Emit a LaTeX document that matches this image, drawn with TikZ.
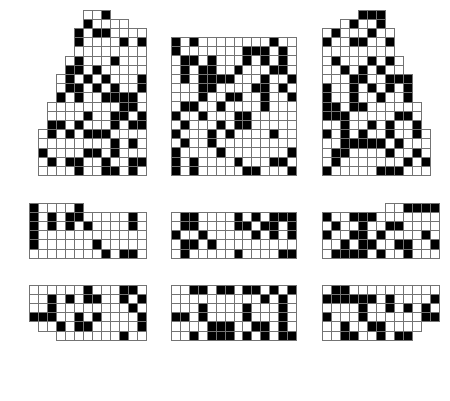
\documentclass[tikz,border=0pt]{standalone}
\begin{document}
\begin{tikzpicture}[x=1pt,y=-1pt,
  seat/.style={draw=black!55,line width=1pt,fill=white},
  taken/.style={draw=black!55,line width=1pt,fill=black}]
\useasboundingbox (0,0) rectangle (450,400);
% top left block
\begin{scope}[shift={(38,10)},x=9.05pt,y=-9.2pt]
  \foreach \r/\a/\b in {1/6/8,2/6/10,3/5/12,4/5/12,5/5/12,6/4/12,7/4/12,8/3/12,9/3/12,
      10/3/12,11/2/12,12/2/12,13/2/12,14/1/12,15/1/12,16/1/12,17/1/12,18/1/12}
    \foreach \c in {\a,...,\b}
      \draw[seat] (\c-1,\r-1) rectangle ++(1,1);
  \foreach \c/\r in {8/1,6/2,5/3,7/3,8/3,5/4,10/4,12/4,5/6,9/6,4/7,5/7,7/7,
      4/8,6/8,8/8,12/8,4/9,5/9,7/9,9/9,12/9,3/10,5/10,8/10,9/10,10/10,11/10,
      10/11,11/11,6/12,9/12,10/12,12/12,2/13,3/13,5/13,9/13,11/13,12/13,
      2/14,4/14,6/14,7/14,8/14,9/15,11/15,1/16,6/16,7/16,9/16,
      2/17,4/17,5/17,8/17,11/17,12/17,5/18,8/18,9/18,11/18}
    \draw[taken] (\c-1,\r-1) rectangle ++(1,1);
\end{scope}
% top middle block
\begin{scope}[shift={(171.5,37.5)},x=8.93pt,y=-9.2pt]
  \foreach \r in {1,...,15}
    \foreach \c in {1,...,14}
      \draw[seat] (\c-1,\r-1) rectangle ++(1,1);
  \foreach \c/\r in {1/1,3/1,12/1,1/2,9/2,10/2,11/2,13/2,2/3,3/3,5/3,9/3,11/3,13/3,
      2/4,4/4,5/4,8/4,12/4,13/4,2/5,4/5,5/5,6/5,7/5,11/5,14/5,4/6,5/6,10/6,11/6,13/6,
      4/7,7/7,8/7,11/7,14/7,2/8,3/8,6/8,11/8,1/9,4/9,8/9,9/9,2/10,6/10,8/10,9/10,
      1/11,5/11,7/11,12/11,2/12,5/12,1/13,6/13,14/13,1/14,3/14,8/14,12/14,13/14,
      1/15,3/15,9/15,10/15,14/15}
    \draw[taken] (\c-1,\r-1) rectangle ++(1,1);
\end{scope}
% top right block
\begin{scope}[shift={(322,10)},x=9.05pt,y=-9.2pt]
  \foreach \r/\a/\b in {1/5/7,2/3/7,3/1/8,4/1/8,5/1/8,6/1/9,7/1/9,8/1/10,9/1/10,
      10/1/10,11/1/11,12/1/11,13/1/11,14/1/12,15/1/12,16/1/12,17/1/12,18/1/12}
    \foreach \c in {\a,...,\b}
      \draw[seat] (\c-1,\r-1) rectangle ++(1,1);
  \foreach \c/\r in {5/1,6/1,7/1,4/2,7/2,2/3,6/3,1/4,4/4,5/4,8/4,2/6,6/6,8/6,
      3/7,5/7,7/7,4/8,5/8,8/8,9/8,10/8,1/9,4/9,6/9,8/9,10/9,1/10,4/10,7/10,10/10,
      1/11,2/11,4/11,5/11,1/12,2/12,3/12,9/12,10/12,3/13,6/13,8/13,11/13,
      1/14,3/14,5/14,8/14,11/14,3/15,4/15,5/15,6/15,7/15,9/15,2/16,3/16,8/16,11/16,
      2/17,10/17,12/17,1/18,7/18,8/18,9/18}
    \draw[taken] (\c-1,\r-1) rectangle ++(1,1);
\end{scope}
% middle left block
\begin{scope}[shift={(29.3,203)},x=9.05pt,y=-9.2pt]
  \foreach \r/\a/\b in {1/1/6,2/1/13,3/1/13,4/1/13,5/1/13,6/1/13}
    \foreach \c in {\a,...,\b}
      \draw[seat] (\c-1,\r-1) rectangle ++(1,1);
  \foreach \c/\r in {1/1,6/1,1/2,3/2,5/2,6/2,12/2,1/3,3/3,5/3,7/3,12/3,1/4,
      1/5,8/5,9/6,11/6,12/6}
    \draw[taken] (\c-1,\r-1) rectangle ++(1,1);
\end{scope}
% middle block
\begin{scope}[shift={(171.5,212.2)},x=8.93pt,y=-9.2pt]
  \foreach \r in {1,...,5}
    \foreach \c in {1,...,14}
      \draw[seat] (\c-1,\r-1) rectangle ++(1,1);
  \foreach \c/\r in {2/1,3/1,8/1,10/1,12/1,13/1,14/1,2/2,3/2,8/2,9/2,11/2,12/2,14/2,
      1/3,4/3,10/3,12/3,14/3,2/4,3/4,5/4,2/5,8/5,13/5,14/5}
    \draw[taken] (\c-1,\r-1) rectangle ++(1,1);
\end{scope}
% middle right block
\begin{scope}[shift={(322,203)},x=9.05pt,y=-9.2pt]
  \foreach \r/\a/\b in {1/8/13,2/1/13,3/1/13,4/1/13,5/1/13,6/1/13}
    \foreach \c in {\a,...,\b}
      \draw[seat] (\c-1,\r-1) rectangle ++(1,1);
  \foreach \c/\r in {10/1,11/1,12/1,13/1,1/2,4/2,5/2,6/2,2/3,5/3,8/3,9/3,
      1/4,4/4,5/4,7/4,12/4,3/5,5/5,6/5,9/5,10/5,13/5,2/6,3/6,4/6,5/6,7/6,10/6}
    \draw[taken] (\c-1,\r-1) rectangle ++(1,1);
\end{scope}
% bottom left block
\begin{scope}[shift={(29.3,285)},x=9.05pt,y=-9.2pt]
  \foreach \r/\a/\b in {1/1/13,2/1/13,3/1/13,4/1/13,5/2/13,6/4/13}
    \foreach \c in {\a,...,\b}
      \draw[seat] (\c-1,\r-1) rectangle ++(1,1);
  \foreach \c/\r in {7/1,11/1,12/1,3/2,5/2,7/2,8/2,11/2,13/2,3/3,12/3,
      1/4,2/4,3/4,6/4,8/4,13/4,4/5,6/5,7/5,13/5,11/6}
    \draw[taken] (\c-1,\r-1) rectangle ++(1,1);
\end{scope}
% bottom middle block
\begin{scope}[shift={(171.5,285)},x=8.93pt,y=-9.2pt]
  \foreach \r in {1,...,6}
    \foreach \c in {1,...,14}
      \draw[seat] (\c-1,\r-1) rectangle ++(1,1);
  \foreach \c/\r in {3/1,4/1,6/1,7/1,9/1,10/1,12/1,14/1,11/2,13/2,4/3,9/3,13/3,
      1/4,2/4,4/4,9/4,13/4,5/5,6/5,7/5,10/5,11/5,13/5,
      3/6,5/6,6/6,7/6,9/6,11/6,13/6,14/6}
    \draw[taken] (\c-1,\r-1) rectangle ++(1,1);
\end{scope}
% bottom right block
\begin{scope}[shift={(322,285)},x=9.05pt,y=-9.2pt]
  \foreach \r/\a/\b in {1/1/13,2/1/13,3/1/13,4/1/13,5/1/11,6/1/10}
    \foreach \c in {\a,...,\b}
      \draw[seat] (\c-1,\r-1) rectangle ++(1,1);
  \foreach \c/\r in {2/1,3/1,1/2,2/2,3/2,4/2,5/2,6/2,8/2,13/2,5/3,8/3,10/3,12/3,
      1/4,5/4,12/4,13/4,3/5,6/5,7/5,3/6,4/6,7/6,9/6,10/6}
    \draw[taken] (\c-1,\r-1) rectangle ++(1,1);
\end{scope}
\end{tikzpicture}
\end{document}
